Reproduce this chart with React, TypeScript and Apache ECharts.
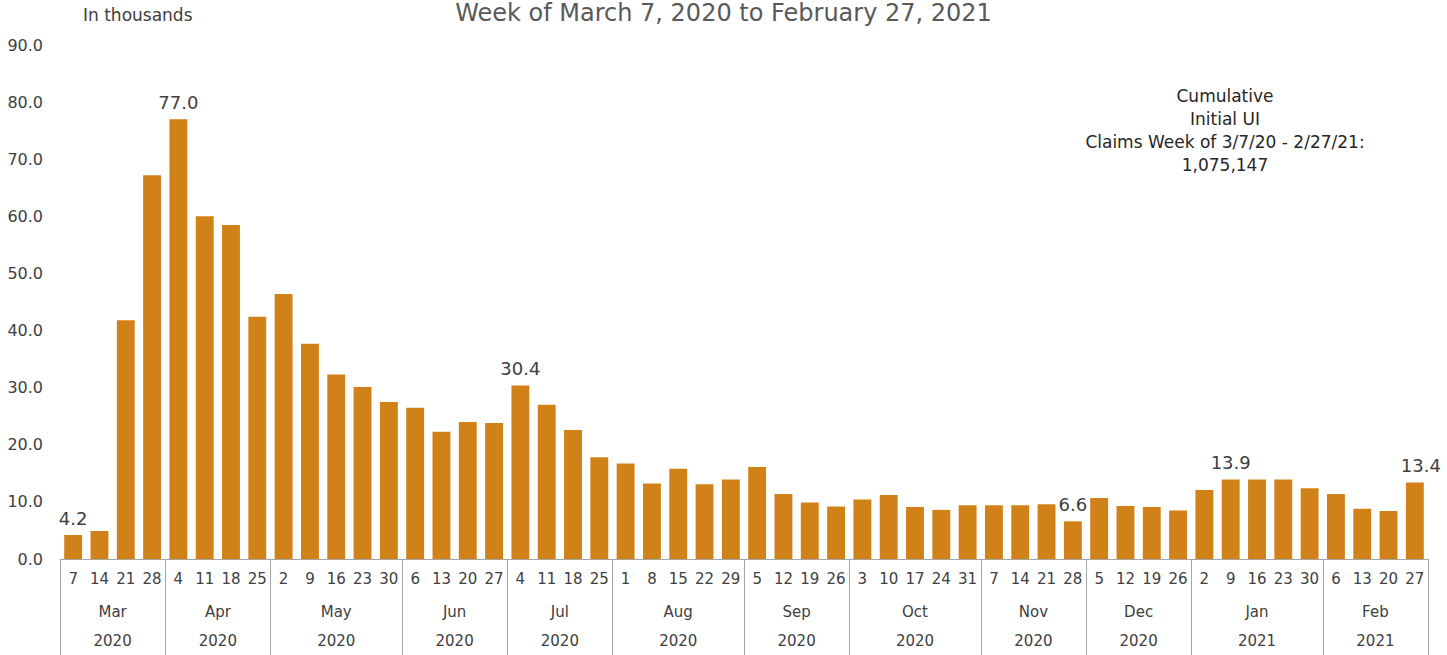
import React, { useEffect, useRef } from "react";
import * as echarts from "echarts";

const dayLabels = [
  "7", "14", "21", "28",
  "4", "11", "18", "25",
  "2", "9", "16", "23", "30",
  "6", "13", "20", "27",
  "4", "11", "18", "25",
  "1", "8", "15", "22", "29",
  "5", "12", "19", "26",
  "3", "10", "17", "24", "31",
  "7", "14", "21", "28",
  "5", "12", "19", "26",
  "2", "9", "16", "23", "30",
  "6", "13", "20", "27",
];

const claims = [
  4.2, 4.9, 41.8, 67.2,
  77.0, 60.0, 58.5, 42.4,
  46.4, 37.7, 32.3, 30.1, 27.5,
  26.5, 22.3, 24.0, 23.8,
  30.4, 27.0, 22.6, 17.8,
  16.7, 13.2, 15.8, 13.1, 13.9,
  16.1, 11.4, 9.9, 9.2,
  10.4, 11.2, 9.1, 8.6, 9.4,
  9.4, 9.4, 9.6, 6.6,
  10.7, 9.3, 9.1, 8.5,
  12.1, 13.9, 13.9, 13.9, 12.4,
  11.4, 8.8, 8.4, 13.4,
];

const monthNames = ["Mar", "Apr", "May", "Jun", "Jul", "Aug", "Sep", "Oct", "Nov", "Dec", "Jan", "Feb"];
const monthYears = ["2020", "2020", "2020", "2020", "2020", "2020", "2020", "2020", "2020", "2020", "2021", "2021"];
const monthWeekCounts = [4, 4, 5, 4, 4, 5, 4, 5, 4, 4, 5, 4];

const labeledIndices = [0, 4, 17, 38, 44, 51];

const yTicks = [0, 10, 20, 30, 40, 50, 60, 70, 80, 90];

const titleText = "Week of March 7, 2020 to February 27, 2021";
const unitText = "In thousands";
const noteLines = ["Cumulative", "Initial UI", "Claims Week of 3/7/20 - 2/27/21:", "1,075,147"];

const FONT = "'DejaVu Sans', sans-serif";

export default function App() {
  const ref = useRef<HTMLDivElement>(null);

  useEffect(() => {
    if (!ref.current) return;
    const chart = echarts.init(ref.current, undefined, { renderer: "svg" });

    // half-slot axis for month / year grouping
    const nSlots = claims.length * 2 + 1;
    const slotLabels: string[] = new Array(nSlots).fill("");
    const boundaries = new Set<number>();
    let start = 0;
    monthWeekCounts.forEach((n, g) => {
      boundaries.add(2 * start);
      slotLabels[2 * start + n] = `${monthNames[g]}\n${monthYears[g]}`;
      start += n;
    });
    boundaries.add(2 * start);

    const barData = claims.map((v, i) => {
      if (!labeledIndices.includes(i)) return v;
      const item: any = { value: v, label: { show: true } };
      if (i === claims.length - 1) item.label.offset = [6, 0];
      return item;
    });

    chart.setOption({
      animation: false,
      textStyle: { fontFamily: FONT },
      title: {
        text: titleText,
        left: "center",
        top: -4,
        textStyle: { fontFamily: FONT, fontSize: 24, fontWeight: "normal", color: "#595959" },
      },
      graphic: [
        {
          type: "text",
          left: 83,
          top: 6,
          style: { text: unitText, fontFamily: FONT, fontSize: 17, fill: "#404040" },
        },
        {
          type: "text",
          x: 1225,
          y: 84,
          style: {
            text: noteLines.join("\n"),
            fontFamily: FONT,
            fontSize: 17,
            lineHeight: 23,
            fill: "#262626",
            align: "center",
          },
        },
      ],
      grid: { left: 60, right: 19, top: 45, bottom: 91, containLabel: false },
      xAxis: [
        {
          type: "category",
          data: dayLabels,
          position: "bottom",
          axisLine: { show: true, lineStyle: { color: "#A6A6A6", width: 1 } },
          axisTick: { show: false },
          axisLabel: { interval: 0, margin: 12, fontSize: 15, color: "#404040", fontFamily: FONT },
        },
        {
          type: "category",
          data: slotLabels,
          position: "bottom",
          boundaryGap: false,
          axisLine: { show: false },
          axisTick: {
            show: true,
            interval: (index: number) => boundaries.has(index),
            length: 100,
            inside: false,
            lineStyle: { color: "#A6A6A6", width: 1 },
          },
          axisLabel: {
            interval: 0,
            margin: 38,
            fontSize: 15,
            lineHeight: 29,
            color: "#404040",
            fontFamily: FONT,
          },
        },
      ],
      yAxis: {
        type: "value",
        min: yTicks[0],
        max: yTicks[yTicks.length - 1],
        interval: 10,
        axisLine: { show: false },
        axisTick: { show: false },
        splitLine: { show: false },
        axisLabel: {
          margin: 17,
          fontSize: 16,
          color: "#404040",
          fontFamily: FONT,
          formatter: (v: number) => v.toFixed(1),
        },
      },
      series: [
        {
          type: "bar",
          xAxisIndex: 0,
          data: barData,
          barWidth: "68%",
          itemStyle: { color: "#D08219" },
          label: {
            show: false,
            position: "top",
            distance: 8,
            fontSize: 18,
            color: "#404040",
            fontFamily: FONT,
            formatter: (p: any) => Number(p.value).toFixed(1),
          },
        },
      ],
    });

    return () => chart.dispose();
  }, []);

  return (
    <div
      ref={ref}
      style={{ position: "fixed", left: 0, top: 0, width: 1447, height: 655, background: "#fff" }}
    />
  );
}
